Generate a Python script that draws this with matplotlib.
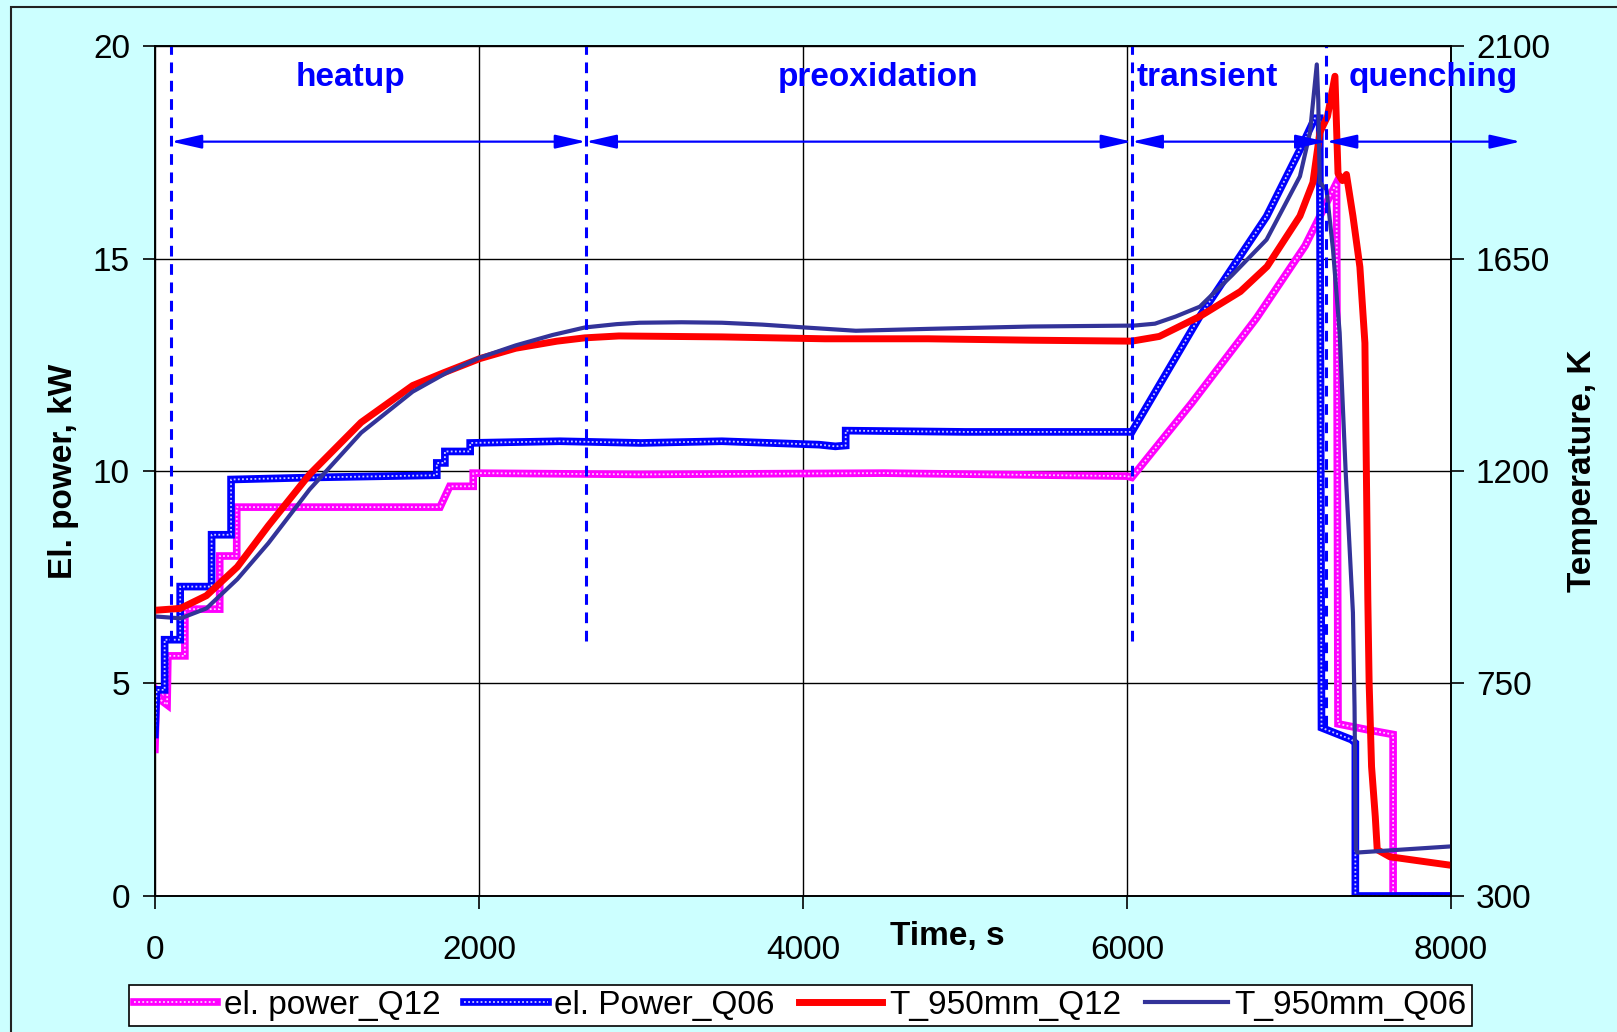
import numpy as np
import matplotlib.pyplot as plt
from matplotlib.patches import Rectangle

plt.rcParams['font.family'] = ['Liberation Sans', 'DejaVu Sans']

# el. power_Q12 (kW)
p12_t = [0, 10, 40, 75, 80, 185, 185, 400, 400, 505, 505, 1760, 1820, 1965, 1965, 3000,
         4500, 6000, 6030, 6400, 6800, 7100, 7294, 7303, 7500, 7643, 7643, 8000]
p12_P = [3.45, 4.8, 4.6, 4.5, 5.65, 5.65, 6.75, 6.75, 8.0, 8.0, 9.15, 9.15, 9.64, 9.64, 9.95, 9.92,
         9.95, 9.88, 9.85, 11.6, 13.6, 15.3, 16.78, 4.05, 3.9, 3.8, 0.0, 0.0]

# el. Power_Q06 (kW)
p06_t = [0, 10, 60, 60, 156, 156, 350, 350, 470, 470, 1000, 1740, 1740, 1790, 1790, 1946, 1946,
         2500, 3000, 3500, 4100, 4200, 4264, 4264, 5000, 6030, 6450, 6655, 6862, 7068, 7160,
         7190, 7201, 7386, 7410, 7410, 8000]
p06_P = [3.8, 4.85, 4.85, 6.03, 6.03, 7.28, 7.28, 8.5, 8.5, 9.8, 9.85, 9.9, 10.19, 10.19, 10.46,
         10.46, 10.66, 10.7, 10.66, 10.7, 10.62, 10.58, 10.6, 10.95, 10.92, 10.92, 13.64, 14.81,
         15.99, 17.56, 18.3, 18.3, 3.96, 3.68, 3.6, 0.0, 0.0]

# T_950mm_Q12 (K)
t12_t = [0, 157, 318, 509, 700, 955, 1273, 1591, 1782, 2005, 2227, 2482, 2654, 2864, 3500, 4136,
         4773, 5410, 6030, 6200, 6453, 6700, 6865, 7068, 7148, 7191, 7238, 7284, 7303, 7330,
         7355, 7395, 7438, 7469, 7478, 7487, 7495, 7510, 7533, 7545, 7623, 8000]
t12_T = [905, 909, 936, 997, 1084, 1193, 1303, 1381, 1408, 1438, 1460, 1475, 1482, 1486, 1484, 1480,
         1480, 1477, 1475, 1485, 1528, 1580, 1633, 1740, 1811, 1917, 1951, 2036, 1830, 1815,
         1828, 1740, 1632, 1471, 1200, 927, 752, 574, 468, 398, 383, 365]

# T_950mm_Q06 (K)
t06_t = [0, 159, 318, 509, 700, 955, 1273, 1591, 1800, 2005, 2227, 2454, 2654, 2850, 2991, 3250,
         3500, 3750, 4009, 4327, 4773, 5410, 6045, 6173, 6300, 6450, 6650, 6862, 7068, 7130,
         7172, 7181, 7190, 7232, 7272, 7313, 7350, 7395, 7405, 7413, 7420, 8000]
t06_T = [892, 888, 909, 971, 1047, 1161, 1281, 1368, 1408, 1440, 1466, 1488, 1504, 1511, 1514, 1515,
         1514, 1510, 1504, 1497, 1501, 1506, 1508, 1512, 1527, 1548, 1615, 1690, 1824, 1917,
         2061, 1986, 1811, 1796, 1669, 1493, 1200, 900, 700, 400, 392, 405]

# test phases
phase_bounds = [100, 2660, 6030, 7230, 8430]
phase_names = ['heatup', 'preoxidation', 'transient', 'quenching']
phase_label_x = [1209, 4461, 6498, 7892]
dash_bottom = [6.0, 6.0, 6.0, 4.0]

fs = 24
fig = plt.figure(figsize=(16.17, 10.32), dpi=100, facecolor='#CCFFFF')
fig.patches.append(Rectangle((11 / 1617, -0.1), 1.2, 1.1 - 7 / 1032, transform=fig.transFigure,
                             fill=False, edgecolor='#222222', lw=1.5))

ax = fig.add_axes([0.0958, 0.1318, 0.8015, 0.8236])
ax.set_facecolor('white')
ax2 = ax.twinx()

def dotted(axis, x, y, color):
    a, = axis.plot(x, y, color=color, lw=5.5, solid_joinstyle='miter')
    b, = axis.plot(x, y, color='white', lw=1.3, linestyle=(0, (1, 1.3)), alpha=0.8)
    return (a, b)

h1 = dotted(ax, p12_t, p12_P, '#FF00FF')
h2 = dotted(ax, p06_t, p06_P, '#0000FF')
h3, = ax2.plot(t12_t, t12_T, color='#FF0000', lw=5)
h4, = ax2.plot(t06_t, t06_T, color='#333399', lw=3)

ax.set_xlim(0, 8000)
ax.set_ylim(0, 20)
ax2.set_ylim(300, 2100)
ax.set_xticks(np.arange(0, 8001, 2000))
ax.set_yticks(np.arange(0, 21, 5))
ax2.set_yticks(np.arange(300, 2101, 450))
ax.grid(True, color='black', lw=1)
ax.set_axisbelow(True)
for a in (ax, ax2):
    for s in a.spines.values():
        s.set_color('black')
        s.set_linewidth(1.2)
ax.tick_params(axis='y', direction='out', length=9, width=1.2, labelsize=fs, pad=9)
ax.tick_params(axis='x', direction='out', length=9, width=1.2, labelsize=fs, pad=19)
ax2.tick_params(axis='y', direction='out', length=9, width=1.2, labelsize=fs, pad=9)

ax.set_ylabel('El. power, kW', fontsize=fs, fontweight='bold', labelpad=10)
ax2.set_ylabel('Temperature, K', fontsize=fs, fontweight='bold', labelpad=12)
fig.text(0.586, 0.093, 'Time, s', fontsize=fs, fontweight='bold', ha='center', va='center')

# phase markers drawn in power coordinates on top axes
for i, xb in enumerate(phase_bounds[:4]):
    ax2.plot([xb, xb], [dash_bottom[i], 20], transform=ax.transData, color='#0000FF',
             lw=2.2, linestyle=(0, (3.5, 2.5)), clip_on=False)
for i in range(4):
    ax2.annotate('', xy=(phase_bounds[i + 1], 17.75), xytext=(phase_bounds[i], 17.75),
                 xycoords=ax.transData, textcoords=ax.transData, annotation_clip=False,
                 arrowprops=dict(arrowstyle='<|-|>,head_length=0.75,head_width=0.17',
                                 color='#0000FF', lw=1.6, shrinkA=0, shrinkB=0,
                                 mutation_scale=25))
    ax2.text(phase_label_x[i], 19.25, phase_names[i], transform=ax.transData, color='#0000FF',
             fontsize=fs, fontweight='bold', ha='center', va='center', clip_on=False)

leg = fig.legend([h1, h2, h3, h4],
                 ['el. power_Q12', 'el. Power_Q06', 'T_950mm_Q12', 'T_950mm_Q06'],
                 loc='lower left', bbox_to_anchor=(0.0798, 0.0058, 0.8305, 0.053),
                 mode='expand', ncol=4, fontsize=fs, frameon=True, fancybox=False,
                 edgecolor='black', framealpha=1, handlelength=2.5, handletextpad=0.2,
                 borderpad=0.15, borderaxespad=0, columnspacing=0.3)
leg.get_frame().set_linewidth(1.2)

fig.savefig('out.png', dpi=100, facecolor=fig.get_facecolor())
